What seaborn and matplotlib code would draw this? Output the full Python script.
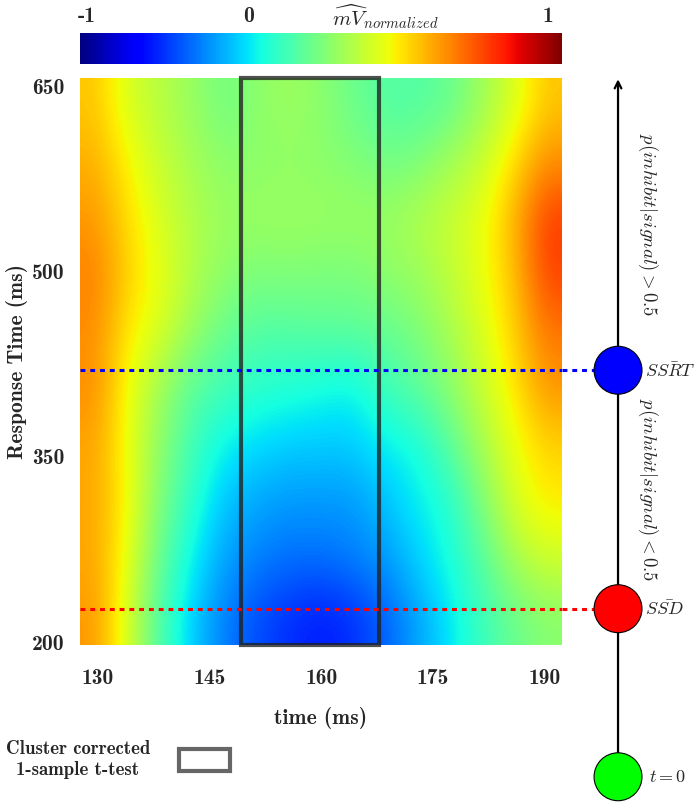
import numpy as np
import matplotlib
matplotlib.use("Agg")
import matplotlib.pyplot as plt
from matplotlib.patches import Rectangle, Patch
import seaborn as sns

# ---------- Data ----------
# normalized mV, one list per response-time row (top = slow RT, bottom = fast RT)
# columns run from ~128 ms to ~192 ms after stimulus
mv_634 = [0.40, 0.22, 0.14, 0.07, -0.03, 0.04, 0.08, 0.04, -0.04, -0.10, -0.10, -0.06, 0.08, 0.22, 0.40]
mv_588 = [0.45, 0.30, 0.18, 0.10, 0.04, 0.04, 0.05, 0.04, 0.02, -0.02, 0.00, 0.10, 0.18, 0.35, 0.52]
mv_541 = [0.50, 0.35, 0.22, 0.13, 0.07, 0.07, 0.08, 0.07, 0.07, 0.07, 0.13, 0.18, 0.26, 0.43, 0.70]
mv_496 = [0.55, 0.37, 0.26, 0.13, 0.04, 0.00, 0.01, 0.00, 0.00, 0.04, 0.07, 0.16, 0.26, 0.40, 0.68]
mv_450 = [0.52, 0.32, 0.22, 0.07, -0.05, -0.10, -0.10, -0.08, -0.08, -0.06, 0.00, 0.10, 0.22, 0.37, 0.57]
mv_404 = [0.52, 0.27, 0.08, -0.09, -0.15, -0.20, -0.22, -0.25, -0.28, -0.15, -0.08, 0.03, 0.18, 0.32, 0.50]
mv_358 = [0.47, 0.27, 0.04, -0.15, -0.28, -0.32, -0.35, -0.35, -0.35, -0.28, -0.25, -0.09, 0.10, 0.26, 0.37]
mv_312 = [0.47, 0.29, 0.00, -0.20, -0.37, -0.42, -0.45, -0.45, -0.45, -0.37, -0.28, -0.22, 0.00, 0.22, 0.32]
mv_266 = [0.47, 0.26, -0.06, -0.28, -0.43, -0.50, -0.53, -0.53, -0.50, -0.45, -0.34, -0.24, -0.10, 0.10, 0.20]
mv_220 = [0.50, 0.22, -0.12, -0.35, -0.50, -0.60, -0.66, -0.70, -0.66, -0.56, -0.43, -0.30, -0.16, -0.05, 0.03]

time_range = (127.6, 192.3)      # ms
rt_range = (197.6, 656.5)        # ms
time_ticks = [130, 145, 160, 175, 190]
rt_ticks = [200, 350, 500, 650]

cluster_window = (149.2, 167.7)  # ms, cluster-corrected 1-sample t-test
ssrt = 420                       # mean SSRT (ms)
ssd = 227                        # mean SSD (ms)
t0_pos = 91                      # schematic position of t = 0 on the timeline

cbar_ticks = [-0.97, -0.30, 0.94]
cbar_labels = ["-1", "0", "1"]

mv = np.array([mv_634, mv_588, mv_541, mv_496, mv_450,
               mv_404, mv_358, mv_312, mv_266, mv_220])

# ---------- Style ----------
sns.set_theme(style="white")
plt.rcParams["font.family"] = ["cmb10", "DejaVu Serif"]
plt.rcParams["mathtext.fontset"] = "cm"
plt.rcParams["axes.unicode_minus"] = False

W, H = 700, 802
fig = plt.figure(figsize=(W / 100, H / 100), dpi=100)
ax = fig.add_axes([80 / W, 157 / H, 482 / W, 567 / H])
cax = fig.add_axes([80 / W, 738 / H, 482 / W, 31 / H])
rax = fig.add_axes([562 / W, 0, 138 / W, 724 / H])

# ---------- Heatmap ----------
im = ax.imshow(mv, cmap="jet", vmin=-1, vmax=1, aspect="auto",
               extent=(time_range[0], time_range[1], rt_range[0], rt_range[1]),
               interpolation="bicubic")
ax.set_xlim(*time_range)
ax.set_ylim(*rt_range)
for s in ax.spines.values():
    s.set_visible(False)

ax.set_xticks(time_ticks)
ax.set_xticklabels([str(t) for t in time_ticks])
ax.set_yticks(rt_ticks)
ax.set_yticklabels([str(t) for t in rt_ticks])
ax.tick_params(axis="x", length=0, pad=17, labelsize=15.5)
ax.tick_params(axis="y", length=0, pad=11, labelsize=15.5)
ax.set_xlabel("time (ms)", fontsize=15.5, labelpad=14)
ax.set_ylabel("Response Time (ms)", fontsize=15.5, labelpad=3)

# cluster box
ax.add_patch(Rectangle((cluster_window[0], rt_range[0]),
                       cluster_window[1] - cluster_window[0],
                       rt_range[1] - rt_range[0],
                       fill=False, edgecolor="#1f1f1f", alpha=0.78, lw=3,
                       clip_on=False, zorder=3))

dot = (0, (1.6, 1.6))
ax.axhline(ssrt, color="blue", lw=2.2, ls=dot, zorder=4)
ax.axhline(ssd, color="red", lw=2.2, ls=dot, zorder=4)

# ---------- Colorbar ----------
cb = fig.colorbar(im, cax=cax, orientation="horizontal")
cb.outline.set_visible(False)
cax.xaxis.set_ticks_position("top")
cb.set_ticks(cbar_ticks)
cb.set_ticklabels(cbar_labels)
cax.tick_params(length=0, pad=5, labelsize=15.5)
fig.text(385 / W, 1 - 17 / H, r"$\widehat{mV}_{normalized}$",
         ha="center", va="center", fontsize=15)

# ---------- Timeline on the right ----------
line_x = 0.406
rax.set_xlim(0, 1)
rax.set_ylim(rt_range[0] - (802 - 645) / 1.236, rt_range[1])
rax.axis("off")

rax.annotate("", xy=(line_x, rt_range[1] - 1), xytext=(line_x, t0_pos),
             arrowprops=dict(arrowstyle="->", lw=1.6, color="black",
                             mutation_scale=12, shrinkA=0, shrinkB=0))
rax.plot([0, line_x], [ssrt, ssrt], color="blue", lw=2.2, ls=dot)
rax.plot([0, line_x], [ssd, ssd], color="red", lw=2.2, ls=dot)
rax.scatter([line_x] * 3, [t0_pos, ssd, ssrt], s=1190,
            c=["#00ff00", "red", "blue"], edgecolors="black",
            linewidths=0.8, zorder=5, clip_on=False)

lab_x = 0.6
rax.text(lab_x, ssrt, r"$\bar{SSRT}$", ha="left", va="center", fontsize=13)
rax.text(lab_x, ssd, r"$\bar{SSD}$", ha="left", va="center", fontsize=13)
rax.text(lab_x + 0.03, t0_pos, r"$t = 0$", ha="left", va="center", fontsize=13)
rax.text(0.625, (ssrt + rt_range[1]) / 2, r"$p(inhibit|signal) > 0.5$",
         rotation=-90, ha="center", va="center", fontsize=13.5)
rax.text(0.625, (ssrt + ssd) / 2, r"$p(inhibit|signal) < 0.5$",
         rotation=-90, ha="center", va="center", fontsize=13.5)

# ---------- Legend ----------
handle = Patch(facecolor="white", edgecolor="#666666", linewidth=3)
leg = fig.legend([handle], ["Cluster corrected\n1-sample t-test"],
                 loc="upper left", bbox_to_anchor=(0.008, 1 - 740 / H),
                 frameon=False, markerfirst=False, fontsize=13.5,
                 handlelength=2.7, handleheight=1.4, handletextpad=1.55,
                 borderpad=0, borderaxespad=0)
for t in leg.get_texts():
    t.set_multialignment("center")

fig.savefig("out.png", dpi=100, facecolor="white")
